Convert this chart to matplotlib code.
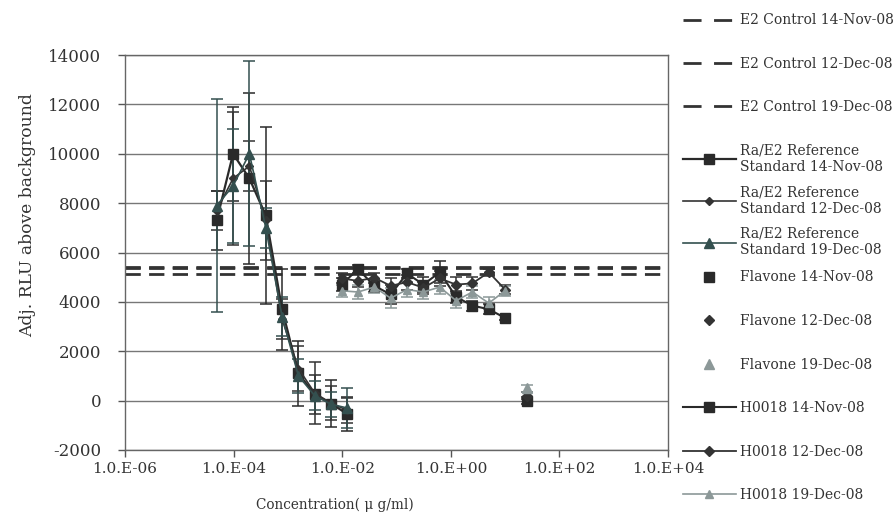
import numpy as np
import matplotlib
matplotlib.use("Agg")
import matplotlib.pyplot as plt
from matplotlib.lines import Line2D

plt.rcParams['font.family'] = ['DejaVu Serif']

# ---------------- data ----------------
e2_labels = ["E2 Control 14-Nov-08", "E2 Control 12-Dec-08", "E2 Control 19-Dec-08"]
e2_values = [5400, 5130, 5380]

rs_conc = [4.88e-5, 9.77e-5, 1.95e-4, 3.91e-4, 7.81e-4, 1.5625e-3, 3.125e-3, 6.25e-3, 1.25e-2]
rs_labels = ["Ra/E2 Reference\nStandard 14-Nov-08",
             "Ra/E2 Reference\nStandard 12-Dec-08",
             "Ra/E2 Reference\nStandard 19-Dec-08"]
rs_nov14 = [7300, 10000, 9000, 7500, 3700, 1100, 250, -120, -550]
rs_nov14_err = [1200, 1900, 3450, 3600, 1650, 1300, 800, 950, 700]
rs_dec12 = [7700, 9000, 9500, 7300, 3300, 1300, 300, -100, -400]
rs_dec12_err = [800, 2700, 1000, 1600, 800, 900, 1250, 700, 500]
rs_dec19 = [7900, 8700, 10000, 7000, 3400, 1000, 200, -150, -300]
rs_dec19_err = [4300, 2300, 3750, 800, 800, 700, 600, 500, 800]

flav_conc = [25.0]
flav_labels = ["Flavone 14-Nov-08", "Flavone 12-Dec-08", "Flavone 19-Dec-08"]
flav_nov14 = [0]
flav_dec12 = [200]
flav_dec19 = [500]
flav_err = [150]

h_conc = [0.0098, 0.0195, 0.039, 0.078, 0.156, 0.3125, 0.625, 1.25, 2.5, 5.0, 10.0]
h_labels = ["H0018 14-Nov-08", "H0018 12-Dec-08", "H0018 19-Dec-08"]
h_nov14 = [4700, 5330, 4650, 4300, 5150, 4700, 5200, 4200, 3850, 3700, 3350]
h_nov14_err = [250, 150, 250, 400, 200, 300, 450, 250, 200, 200, 100]
h_dec12 = [4950, 4850, 4980, 4650, 4800, 4570, 4950, 4700, 4750, 5200, 4500]
h_dec12_err = [200, 250, 200, 300, 300, 250, 300, 300, 250, 150, 200]
h_dec19 = [4450, 4400, 4600, 4150, 4500, 4400, 4600, 4050, 4400, 3950, 4450]
h_dec19_err = [250, 300, 250, 400, 300, 300, 300, 300, 250, 250, 200]

yticks = [-2000, 0, 2000, 4000, 6000, 8000, 10000, 12000, 14000]
xticks = [1e-6, 1e-4, 1e-2, 1e0, 1e2, 1e4]
xticklabels = ["1.0.E-06", "1.0.E-04", "1.0.E-02", "1.0.E+00", "1.0.E+02", "1.0.E+04"]

# ---------------- figure ----------------
fig = plt.figure(figsize=(8.95, 5.17), dpi=100)
ax = fig.add_axes([0.1397, 0.1296, 0.6067, 0.764])
ax.set_xscale('log')
ax.set_xlim(1e-6, 1e4)
ax.set_ylim(-2000, 14000)
ax.set_yticks(yticks)
ax.set_yticklabels([str(v) for v in yticks])
ax.set_xticks(xticks)
ax.set_xticklabels(xticklabels)
ax.minorticks_off()
ax.tick_params(axis='both', direction='out', length=5, width=1, colors='#555555',
               labelcolor='#333333')
ax.tick_params(axis='x', pad=4, labelsize=11)
ax.tick_params(axis='y', pad=12, labelsize=12)
for s in ax.spines.values():
    s.set_color('#666666')
    s.set_linewidth(1)
ax.yaxis.grid(True, color='#777777', linewidth=1)
ax.set_axisbelow(True)

dark = '#2a2a2a'
dark2 = '#333333'
teal = '#34504f'
light = '#8c9898'

# E2 controls
e2_handles = []
for v, lab in zip(e2_values, e2_labels):
    ax.axhline(v, color='#333333', lw=2.0, linestyle=(0, (5.5, 3)), zorder=2)
    e2_handles.append(Line2D([], [], color='#333333', lw=2.0, linestyle=(0, (6.5, 4.5)), label=lab))

# Reference standard
rs_specs = [(rs_nov14, rs_nov14_err, 's', 7, dark, 1.6),
            (rs_dec12, rs_dec12_err, 'D', 4.5, dark2, 1.2),
            (rs_dec19, rs_dec19_err, '^', 6.5, teal, 1.2)]
rs_handles = []
for (vals, err, m, ms, col, lw), lab in zip(rs_specs, rs_labels):
    ax.errorbar(rs_conc, vals, yerr=err, color=col, marker=m, ms=ms, lw=lw,
                capsize=4, elinewidth=1.1, capthick=1.1, zorder=3)
    rs_handles.append(Line2D([], [], color=col, marker=m, ms=ms, lw=lw, label=lab))

# H0018
h_specs = [(h_nov14, h_nov14_err, 's', 7, dark, 1.5),
           (h_dec12, h_dec12_err, 'D', 5.5, dark2, 1.3),
           (h_dec19, h_dec19_err, '^', 6, light, 1.2)]
h_handles = []
for (vals, err, m, ms, col, lw), lab in zip(h_specs, h_labels):
    ax.errorbar(h_conc, vals, yerr=err, color=col, marker=m, ms=ms, lw=lw,
                capsize=4, elinewidth=1.1, capthick=1.1, zorder=3)
    h_handles.append(Line2D([], [], color=col, marker=m, ms=ms, lw=lw, label=lab))

# Flavone (markers only)
f_specs = [(flav_nov14, 's', 7, dark), (flav_dec12, 'D', 5.5, dark2), (flav_dec19, '^', 6.5, light)]
f_handles = []
for (vals, m, ms, col), lab in zip(f_specs, flav_labels):
    ax.errorbar(flav_conc, vals, yerr=flav_err, color=col, marker=m, ms=ms, linestyle='none',
                capsize=4, elinewidth=1.1, capthick=1.1, zorder=3)
    f_handles.append(Line2D([], [], color=col, marker=m, ms=ms, linestyle='none', label=lab))

ax.set_ylabel("Adj. RLU above background", fontsize=12.3, color='#333333')
ax.yaxis.set_label_coords(-0.163, 0.595)
ax.set_xlabel("Concentration( μ g/ml)", fontsize=9.8, color='#333333', va='center')
ax.xaxis.set_label_coords(0.387, -0.139)

leg_kw = dict(loc='upper left', frameon=False, fontsize=10, handlelength=3.8,
              handletextpad=0.3, borderpad=0, borderaxespad=0,
              bbox_transform=fig.transFigure, labelcolor='#333333')
l1 = fig.legend(handles=e2_handles, bbox_to_anchor=(0.763, 0.974), labelspacing=2.12, **leg_kw)
l2 = fig.legend(handles=rs_handles, bbox_to_anchor=(0.763, 0.722), labelspacing=0.82, **leg_kw)
l3 = fig.legend(handles=f_handles + h_handles, bbox_to_anchor=(0.763, 0.477), labelspacing=2.13, **leg_kw)

fig.savefig("out.png", dpi=100)
